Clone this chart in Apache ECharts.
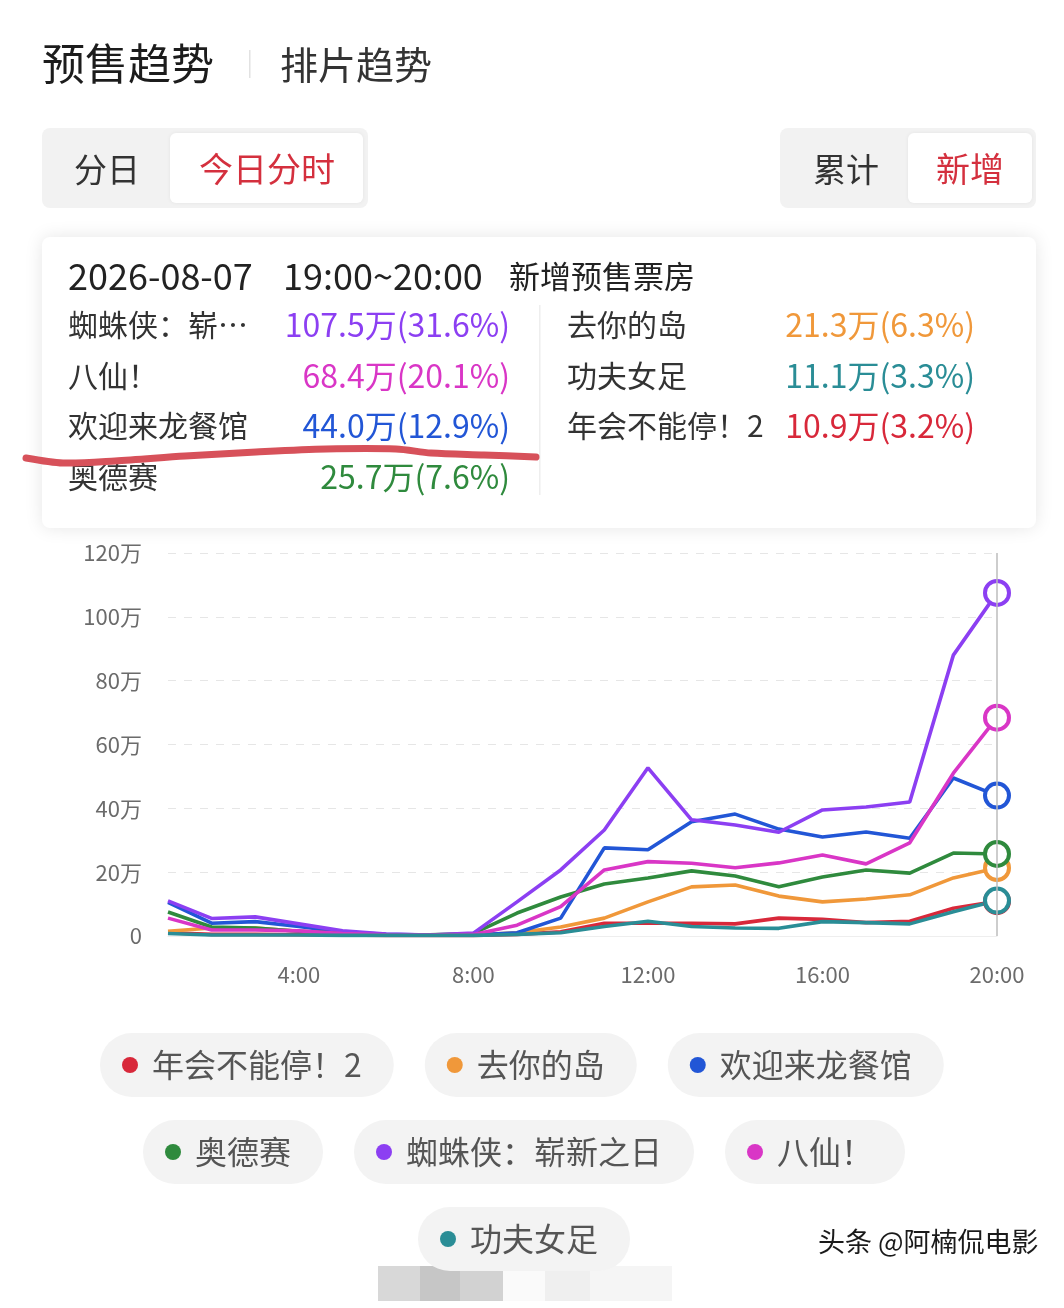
<!DOCTYPE html>
<html>
<head>
<meta charset="utf-8">
<script src="https://cdn.jsdelivr.net/npm/echarts@6/dist/echarts.min.js"></script>
<style>
html,body{margin:0;padding:0;background:#fff;}
#main{width:1064px;height:1308px;}
</style>
</head>
<body>
<div id="main"></div>
<script>
// ---------- data ----------
const hours = ['1:00','2:00','3:00','4:00','5:00','6:00','7:00','8:00','9:00','10:00',
               '11:00','12:00','13:00','14:00','15:00','16:00','17:00','18:00','19:00','20:00'];
const yTicks = [0, 20, 40, 60, 80, 100, 120];           // 万
const seriesNames = ['年会不能停！2','去你的岛','欢迎来龙餐馆','奥德赛','蜘蛛侠：崭新之日','八仙！','功夫女足'];
const seriesColors = ['#d8283a','#f0983a','#2256d6','#2f8a3d','#8c3ff2','#d936c6','#2a8d96'];
const nianhui  = [1, 0.5, 0.5, 0.4, 0.3, 0.2, 0.2, 0.2, 0.5, 1.3, 4, 4, 4, 3.8, 5.6, 5.2, 4.2, 4.6, 8.7, 10.9];
const quNiDao  = [1.5, 2.5, 2.5, 1.5, 0.8, 0.3, 0.3, 0.3, 1, 2.8, 5.6, 10.7, 15.4, 16, 12.5, 10.7, 11.6, 12.9, 18.2, 21.3];
const huanying = [10.5, 4, 4.5, 3, 1.2, 0.5, 0.3, 0.3, 1, 5.6, 27.6, 27, 35.8, 38.2, 33.5, 31, 32.6, 30.6, 49.5, 44.0];
const odyssey  = [7.5, 2.8, 2.5, 1.5, 0.8, 0.4, 0.4, 0.8, 7.2, 12.2, 16.3, 18.2, 20.4, 18.8, 15.4, 18.5, 20.7, 19.7, 26, 25.7];
const spider   = [11, 5.5, 6, 3.8, 1.6, 0.6, 0.3, 0.9, 10.7, 20.7, 33.2, 52.7, 36.4, 34.8, 32.5, 39.5, 40.4, 42, 88, 107.5];
const baxian   = [5.6, 1.9, 1.9, 1.6, 0.8, 0.4, 0.3, 0.5, 3.4, 9.2, 20.7, 23.3, 22.8, 21.4, 22.9, 25.4, 22.6, 29.2, 51, 68.4];
const kungfu   = [0.8, 0.3, 0.3, 0.3, 0.2, 0.2, 0.2, 0.2, 0.5, 1, 3, 4.6, 3, 2.5, 2.4, 4.5, 4.2, 3.8, 7.6, 11.1];
const seriesData = [nianhui, quNiDao, huanying, odyssey, spider, baxian, kungfu];
const sharePct = [3.2, 6.3, 12.9, 7.6, 31.6, 20.1, 3.3];   // share of hour total, %
const tipDate = '2026-08-07', tipRange = '19:00~20:00', tipLabel = '新增预售票房';
const legendRows = [[0,1,2],[3,4,5],[6]];
const headerMain = '预售趋势', headerSub = '排片趋势';
const tabLeft = ['分日','今日分时'], tabRight = ['累计','新增'];
const watermark = '头条 @阿楠侃电影';

// ---------- chart ----------
const FONT = '"Noto Sans CJK SC","Noto Sans",sans-serif';
const chart = echarts.init(document.getElementById('main'), null, {renderer:'canvas'});
const last = hours.length - 1;

const series = seriesNames.map((n, i) => ({
  name: n, type: 'line', data: seriesData[i],
  showSymbol: true, showAllSymbol: true,
  symbol: (v, p) => p.dataIndex === last ? 'circle' : 'none',
  symbolSize: 24,
  itemStyle: {color: '#fff', borderColor: seriesColors[i], borderWidth: 4},
  lineStyle: {color: seriesColors[i], width: 3.6},
  color: seriesColors[i],
  emphasis: {disabled: true},
  animation: false,
  markLine: i === 0 ? {
    silent: true, symbol: 'none', label: {show: false}, animation: false,
    lineStyle: {color: '#bdbdbd', width: 1.5, type: 'solid'},
    data: [{xAxis: hours[last]}]
  } : undefined
}));

// legends: one per row
const rich = {t: {fontSize: 32, color: '#555', padding: [0,0,0,14], lineHeight: 32, fontFamily: FONT}};
seriesColors.forEach((c, i) => { rich['d'+i] = {width: 16, height: 16, borderRadius: 8, backgroundColor: c}; });
const legendTops = [1033, 1120, 1207];
const legendLefts = [95, 138, 413];
const legends = legendRows.map((row, r) => ({
  top: legendTops[r], left: legendLefts[r], padding: 0, itemGap: 26,
  icon: 'none', itemWidth: 0, itemHeight: 14, selectedMode: false,
  data: row.map(i => seriesNames[i]),
  formatter: name => '{d' + seriesNames.indexOf(name) + '| }{t|' + name + '}',
  textStyle: {backgroundColor: '#f3f3f3', borderRadius: 32, padding: [16, 32, 16, 22],
              fontSize: 32, lineHeight: 32, color: '#555', fontFamily: FONT, rich: rich}
}));

// tooltip-like panel content, sorted by last value
const order = seriesNames.map((n, i) => i).sort((a, b) => seriesData[b][last] - seriesData[a][last]);
const rowsY = [325, 376, 426, 477];
const g = [];
// header
g.push({type:'text', style:{x:42, y:64, text:headerMain, font:'43px '+FONT, fill:'#1c1c1c', verticalAlign:'middle'}});
g.push({type:'rect', shape:{x:249, y:50, width:1.5, height:28}, style:{fill:'#e2e2e2'}});
g.push({type:'text', style:{x:280, y:65, text:headerSub, font:'38px '+FONT, fill:'#333', verticalAlign:'middle'}});
// tabs
g.push({type:'rect', shape:{x:42, y:128, width:326, height:80, r:8}, style:{fill:'#f2f2f2'}});
g.push({type:'rect', shape:{x:170, y:133, width:193, height:70, r:6}, style:{fill:'#fff', shadowBlur:4, shadowColor:'rgba(0,0,0,0.06)'}});
g.push({type:'text', style:{x:107, y:169, text:tabLeft[0], font:'33px '+FONT, fill:'#333', align:'center', verticalAlign:'middle'}});
g.push({type:'text', style:{x:267, y:169, text:tabLeft[1], font:'34px '+FONT, fill:'#d4303e', align:'center', verticalAlign:'middle'}});
g.push({type:'rect', shape:{x:780, y:128, width:256, height:80, r:8}, style:{fill:'#f2f2f2'}});
g.push({type:'rect', shape:{x:908, y:133, width:124, height:70, r:6}, style:{fill:'#fff', shadowBlur:4, shadowColor:'rgba(0,0,0,0.06)'}});
g.push({type:'text', style:{x:846, y:169, text:tabRight[0], font:'33px '+FONT, fill:'#333', align:'center', verticalAlign:'middle'}});
g.push({type:'text', style:{x:970, y:169, text:tabRight[1], font:'34px '+FONT, fill:'#d4303e', align:'center', verticalAlign:'middle'}});
// panel
g.push({type:'rect', shape:{x:42, y:237, width:994, height:291, r:8}, style:{fill:'#fff', shadowBlur:18, shadowColor:'rgba(0,0,0,0.10)'}});
g.push({type:'text', style:{x:68, y:276, text:tipDate, font:'36px '+FONT, fill:'#222', verticalAlign:'middle'}});
g.push({type:'text', style:{x:283, y:276, text:tipRange, font:'36px '+FONT, fill:'#222', verticalAlign:'middle'}});
g.push({type:'text', style:{x:509, y:276, text:tipLabel, font:'31px '+FONT, fill:'#222', verticalAlign:'middle'}});
g.push({type:'rect', shape:{x:539, y:305, width:1.5, height:190}, style:{fill:'#eeeeee'}});
order.forEach((si, k) => {
  const col = k < 4 ? 0 : 1;
  const y = rowsY[col === 0 ? k : k - 4];
  const nx = col === 0 ? 68 : 567;
  const vx = col === 0 ? 510 : 975;
  g.push({type:'text', style:{x:nx, y:y, text:seriesNames[si], font:'30px '+FONT, fill:'#333', verticalAlign:'middle',
          width: col === 0 ? 205 : 230, overflow:'truncate', ellipsis:'…'}});
  g.push({type:'text', style:{x:vx, y:y, text: seriesData[si][last].toFixed(1) + '万(' + sharePct[si].toFixed(1) + '%)',
          font:'32px '+FONT, fill:seriesColors[si], align:'right', verticalAlign:'middle'}});
});
// hand-drawn underline
g.push({type:'polyline', z:100, shape:{points:[[26,458],[63,463],[115,461],[185,456],[256,452],[326,449],[396,449],[431,453],[484,455],[536,457]], smooth:0.3},
        style:{stroke:'#d7515a', lineWidth:7, lineCap:'round', lineJoin:'round', fill:null}});
// mosaic + watermark
[['#d8d8d8',378,42],['#c6c6c6',420,40],['#d2d2d2',460,43],['#fafafa',503,42],['#efefef',545,45],['#f5f5f5',590,82]].forEach(m => {
  g.push({type:'rect', shape:{x:m[1], y:1266, width:m[2], height:35}, style:{fill:m[0]}});
});
g.push({type:'text', style:{x:818, y:1242, text:watermark, font:'27px '+FONT, fill:'#1a1a1a', verticalAlign:'middle',
        textShadowColor:'rgba(255,255,255,0.9)', textShadowBlur:2, textShadowOffsetX:1, textShadowOffsetY:1}});

chart.setOption({
  backgroundColor: '#fff',
  animation: false,
  textStyle: {fontFamily: FONT},
  grid: {left: 168, right: 67, top: 553, bottom: 372, containLabel: false},
  xAxis: {
    type: 'category', data: hours, boundaryGap: false,
    axisTick: {show: false},
    axisLine: {lineStyle: {color: '#eeeeee'}},
    axisLabel: {interval: (idx) => (idx + 1) % 4 === 0, margin: 28, fontSize: 22, color: '#6b6b6b', fontFamily: FONT}
  },
  yAxis: {
    type: 'value', min: yTicks[0], max: yTicks[yTicks.length - 1], interval: yTicks[1] - yTicks[0],
    axisLine: {show: false}, axisTick: {show: false},
    axisLabel: {margin: 26, fontSize: 22, color: '#6b6b6b', fontFamily: FONT, formatter: v => v === 0 ? '0' : v + '万'},
    splitLine: {lineStyle: {color: '#e6e6e6', type: [8, 8], width: 1}}
  },
  legend: legends,
  series: series,
  graphic: {elements: g}
});
</script>
</body>
</html>
